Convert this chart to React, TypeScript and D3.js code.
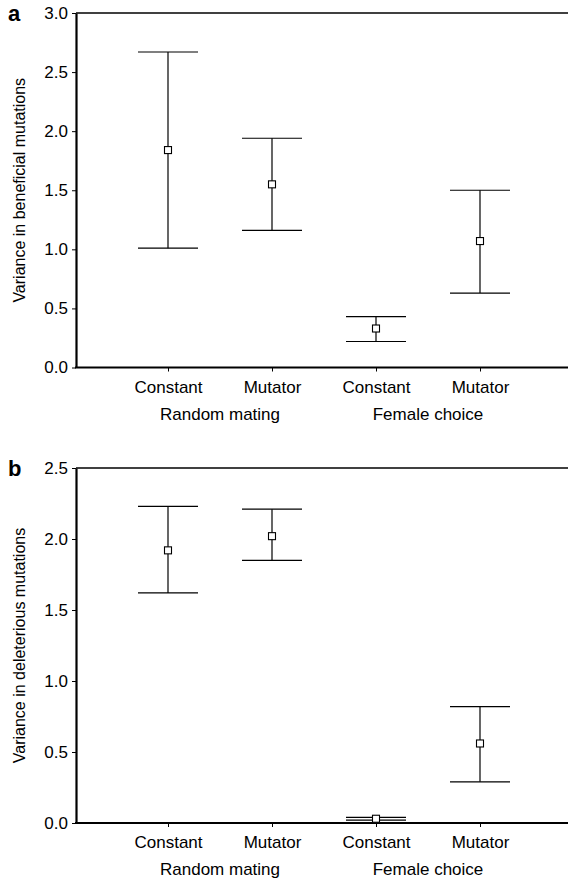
import React, { useRef, useEffect } from "react";
import * as d3 from "d3";

// treatments along the x axis, and the two mating groups under them
const treatments = ["Constant", "Mutator", "Constant", "Mutator"];
const groups = ["Random mating", "Female choice"];

// panel a: variance in beneficial mutations (mean, lower, upper)
const benMean = [1.84, 1.55, 0.33, 1.07];
const benLow = [1.01, 1.16, 0.22, 0.63];
const benHigh = [2.67, 1.94, 0.43, 1.5];
const benTicks = [0, 0.5, 1.0, 1.5, 2.0, 2.5, 3.0];

// panel b: variance in deleterious mutations
const delMean = [1.92, 2.02, 0.03, 0.56];
const delLow = [1.62, 1.85, 0.02, 0.29];
const delHigh = [2.23, 2.21, 0.04, 0.82];
const delTicks = [0, 0.5, 1.0, 1.5, 2.0, 2.5];

const FONT = "'Liberation Sans', Arial, Helvetica, sans-serif";

function App() {
  const svgRef = useRef<SVGSVGElement | null>(null);

  useEffect(() => {
    const width = 568;
    const height = 879;
    const axisLeftX = 76;
    const capHalf = 30;
    const box = 7;

    const svg = d3.select(svgRef.current).attr("width", width).attr("height", height);
    svg.selectAll("*").remove();

    const panels = [
      { letter: "a", title: "Variance in beneficial mutations", top: 13, bottom: 367.5, ticks: benTicks, mean: benMean, low: benLow, high: benHigh },
      { letter: "b", title: "Variance in deleterious mutations", top: 468, bottom: 823, ticks: delTicks, mean: delMean, low: delLow, high: delHigh },
    ];

    const x = d3.scaleLinear().domain([0, 3]).range([168, 480]);

    panels.forEach((p) => {
      const yMax = d3.max(p.ticks) as number;
      const y = d3.scaleLinear().domain([0, yMax]).range([p.bottom, p.top]);
      const g = svg.append("g");

      // top frame line
      g.append("line")
        .attr("x1", axisLeftX).attr("x2", width)
        .attr("y1", y(yMax)).attr("y2", y(yMax))
        .attr("stroke", "#000").attr("stroke-width", 1.5);

      // y axis
      const yAxis = g.append("g")
        .attr("transform", `translate(${axisLeftX},0)`)
        .call(d3.axisLeft(y).tickValues(p.ticks).tickFormat(d3.format(".1f")).tickSize(4).tickSizeOuter(0).tickPadding(4));
      yAxis.select(".domain").attr("stroke-width", 2.2);
      yAxis.selectAll("text").attr("font-size", 17).attr("font-family", FONT).attr("fill", "#000");

      // x axis
      g.append("line")
        .attr("x1", axisLeftX - 1).attr("x2", width)
        .attr("y1", p.bottom).attr("y2", p.bottom)
        .attr("stroke", "#000").attr("stroke-width", 2.2);
      const xAxis = g.append("g")
        .attr("transform", `translate(0,${p.bottom})`)
        .call(d3.axisBottom(x).tickValues([0, 1, 2, 3]).tickFormat((d) => treatments[d as number]).tickSize(4).tickSizeOuter(0).tickPadding(9));
      xAxis.select(".domain").remove();
      xAxis.selectAll("text").attr("font-size", 17).attr("font-family", FONT).attr("fill", "#000");

      // group labels
      groups.forEach((name, i) => {
        g.append("text")
          .attr("x", (x(i * 2) + x(i * 2 + 1)) / 2)
          .attr("y", p.bottom + 52)
          .attr("text-anchor", "middle")
          .attr("font-size", 17)
          .attr("font-family", FONT)
          .text(name);
      });

      // axis title
      g.append("text")
        .attr("transform", `translate(25,${(p.top + p.bottom) / 2}) rotate(-90)`)
        .attr("text-anchor", "middle")
        .attr("font-size", 16)
        .attr("font-family", FONT)
        .text(p.title);

      // panel letter
      g.append("text")
        .attr("x", 8)
        .attr("y", p.top + 8)
        .attr("font-size", 22)
        .attr("font-weight", "bold")
        .attr("font-family", FONT)
        .text(p.letter);

      // error bars
      const bars = g.append("g").selectAll("g").data(p.mean).enter().append("g");
      bars.append("line")
        .attr("x1", (_, i) => x(i)).attr("x2", (_, i) => x(i))
        .attr("y1", (_, i) => y(p.low[i])).attr("y2", (_, i) => y(p.high[i]))
        .attr("stroke", "#000").attr("stroke-width", 1.2);
      bars.append("line")
        .attr("x1", (_, i) => x(i) - capHalf).attr("x2", (_, i) => x(i) + capHalf)
        .attr("y1", (_, i) => y(p.high[i])).attr("y2", (_, i) => y(p.high[i]))
        .attr("stroke", "#000").attr("stroke-width", 1.2);
      bars.append("line")
        .attr("x1", (_, i) => x(i) - capHalf).attr("x2", (_, i) => x(i) + capHalf)
        .attr("y1", (_, i) => y(p.low[i])).attr("y2", (_, i) => y(p.low[i]))
        .attr("stroke", "#000").attr("stroke-width", 1.2);
      bars.append("rect")
        .attr("x", (_, i) => x(i) - box / 2)
        .attr("y", (d) => y(d) - box / 2)
        .attr("width", box).attr("height", box)
        .attr("fill", "#fff").attr("stroke", "#000").attr("stroke-width", 1.1);
    });
  }, []);

  return <svg ref={svgRef} style={{ position: "absolute", left: 0, top: 0 }}></svg>;
}

export default App;
